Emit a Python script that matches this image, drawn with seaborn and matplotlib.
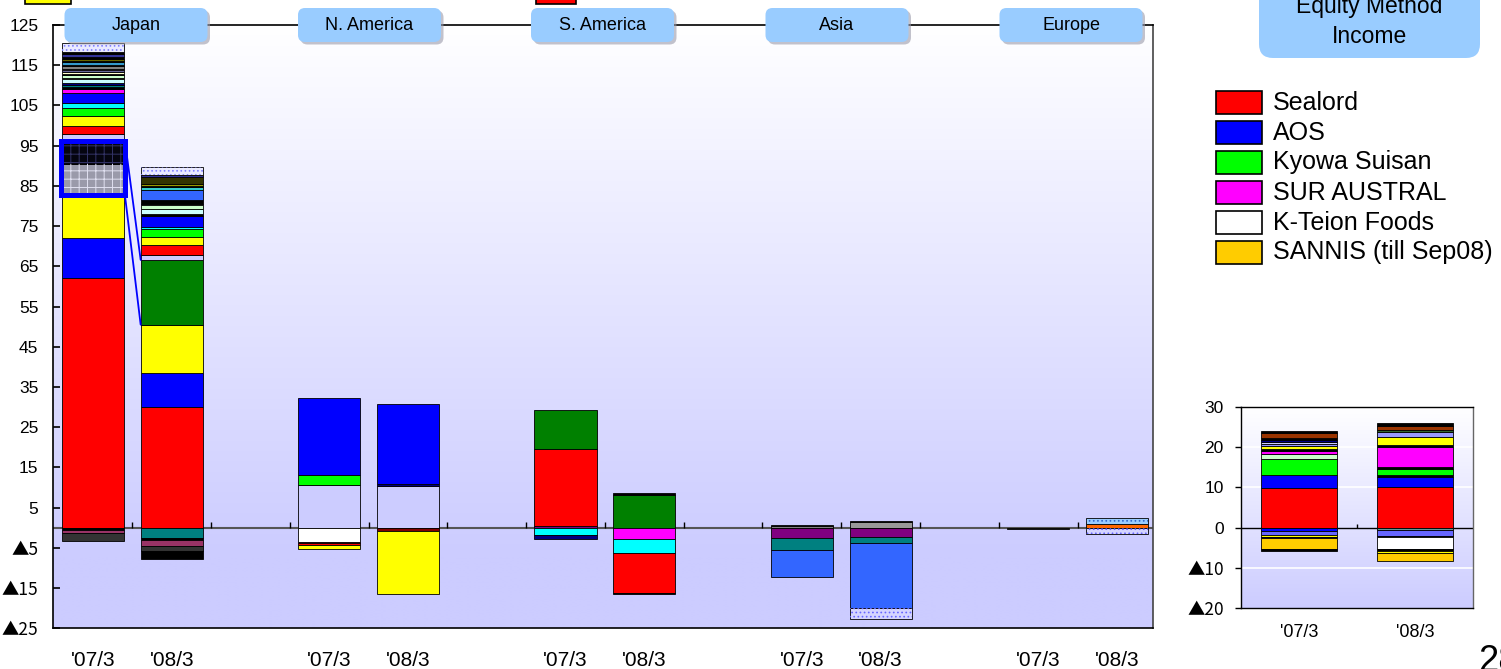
import numpy as np
import matplotlib
matplotlib.use("Agg")
import matplotlib.pyplot as plt
import matplotlib.transforms as mtransforms
from matplotlib.patches import FancyBboxPatch, Rectangle
import seaborn as sns

# ---------------------------------------------------------------- data
REGIONS = ["Japan", "N. America", "S. America", "Asia", "Europe"]
PERIODS = ["'07/3", "'08/3"]

# Stacked contributions per company (upward from 0 / downward from 0), bottom segment first
JP07_UP = [62.0, 10.0, 10.7, 7.7, 5.8, 1.8, 2.0, 2.4, 2.0, 1.2, 2.4, 1.1, 0.5, 0.5, 0.5,
           1.0, 0.3, 0.6, 0.3, 0.5, 0.5, 0.3, 0.7, 0.3, 0.6, 0.3, 0.6, 0.4, 0.8, 0.5, 2.3]
JP07_UP_FILL = ["red", "blue", "yellow", "dots_gray", "dots_black", "lavender", "red", "yellow",
                "green", "cyan", "blue", "magenta", "black", "teal", "navy", "ltcyan", "white",
                "ltgreen", "black", "ltyellow", "slate", "pink", "gray", "black", "steel", "black",
                "olive", "black", "indigo", "black", "dots_lav"]
JP07_DOWN = [-0.6, -0.8, -1.8]
JP07_DOWN_FILL = ["black", "plum", "charcoal"]

JP08_UP = [30.0, 8.5, 12.0, 16.1, 1.3, 2.4, 2.0, 2.0, 0.5, 2.6, 0.5, 1.3, 1.0, 0.2, 1.1,
           2.5, 0.6, 0.3, 0.6, 1.8, 0.4, 2.1]
JP08_UP_FILL = ["red", "blue", "yellow", "dkgreen", "lavender", "red", "yellow", "green", "cyan",
                "blue", "black", "ltcyan", "ltgreen", "white", "black", "royal", "aqua", "black",
                "khaki", "darkolive", "indigo", "dots_lav"]
JP08_DOWN = [-2.6, -0.5, -1.5, -1.3, -1.9]
JP08_DOWN_FILL = ["teal", "black", "plum", "charcoal", "black"]

NA07_UP = [10.7, 2.5, 19.1]
NA07_UP_FILL = ["lavender", "green", "blue"]
NA07_DOWN = [-3.6, -0.25, -0.35, -1.1]
NA07_DOWN_FILL = ["white", "rose", "red", "yellow"]
NA08_UP = [10.5, 0.5, 19.8]
NA08_UP_FILL = ["lavender", "navy", "blue"]
NA08_DOWN = [-0.7, -15.8]
NA08_DOWN_FILL = ["maroon", "yellow"]

SA07_UP = [0.5, 19.1, 9.8]
SA07_UP_FILL = ["purple", "red", "dkgreen"]
SA07_DOWN = [-1.9, -0.8]
SA07_DOWN_FILL = ["cyan", "navy"]
SA08_UP = [8.2, 0.4]
SA08_UP_FILL = ["dkgreen", "black"]
SA08_DOWN = [-2.7, -3.6, -9.8, -0.4]
SA08_DOWN_FILL = ["magenta", "cyan", "red", "black"]

AS07_UP = [0.5, 0.3]
AS07_UP_FILL = ["gray", "charcoal"]
AS07_DOWN = [-2.6, -3.0, -6.7]
AS07_DOWN_FILL = ["purple", "teal", "royal"]
AS08_UP = [1.4, 0.2]
AS08_UP_FILL = ["silver", "charcoal"]
AS08_DOWN = [-2.4, -1.3, -16.2, -2.8]
AS08_DOWN_FILL = ["purple", "teal", "royal", "dots_peri"]

EU07_UP = []
EU07_UP_FILL = []
EU07_DOWN = [-0.4]
EU07_DOWN_FILL = ["charcoal"]
EU08_UP = [0.9, 1.4]
EU08_UP_FILL = ["orange", "dots_sky"]
EU08_DOWN = [-1.6]
EU08_DOWN_FILL = ["dots_peri"]

# Equity method income (all companies)
EQ07_UP = [9.9, 3.2, 3.9, 1.2, 0.8, 0.4, 0.9, 0.4, 0.5, 0.6, 0.4, 1.4, 0.3]
EQ07_UP_FILL = ["red", "blue", "green", "ltgreen", "magenta", "black", "yellow", "periwinkle",
                "lavender", "navy", "black", "brown", "black"]
EQ07_DOWN = [-0.8, -1.0, -0.4, -0.3, -2.9, -0.5]
EQ07_DOWN_FILL = ["blue", "iris", "yellow", "navy", "gold", "black"]
EQ08_UP = [10.0, 2.6, 0.4, 1.6, 0.4, 5.0, 0.4, 2.2, 1.1, 0.5, 0.9, 0.8]
EQ08_UP_FILL = ["red", "blue", "black", "green", "black", "magenta", "black", "yellow",
                "periwinkle", "moss", "brown", "black"]
EQ08_DOWN = [-0.7, -1.3, -0.4, -3.0, -0.3, -0.6, -1.9]
EQ08_DOWN_FILL = ["sage", "iris", "navy", "white", "black", "yellow", "gold"]

LEGEND_NAMES = ["Sealord", "AOS", "Kyowa Suisan", "SUR AUSTRAL", "K-Teion Foods", "SANNIS (till Sep08)"]
LEGEND_FILL = ["red", "blue", "green", "magenta", "white", "gold"]

MAIN_YTICKS = [125, 115, 105, 95, 85, 75, 65, 55, 45, 35, 25, 15, 5, -5, -15, -25]
INSET_YTICKS = [30, 20, 10, 0, -10, -20]

# ---------------------------------------------------------------- styles
FILLS = {
    "red": ("#FF0000", None, None), "blue": ("#0000FF", None, None),
    "yellow": ("#FFFF00", None, None), "green": ("#00FF00", None, None),
    "dkgreen": ("#008000", None, None), "cyan": ("#00FFFF", None, None),
    "magenta": ("#FF00FF", None, None), "black": ("#000000", None, None),
    "teal": ("#008080", None, None), "navy": ("#000080", None, None),
    "ltcyan": ("#CCFFFF", None, None), "ltgreen": ("#CCFFCC", None, None),
    "ltyellow": ("#FFFFCC", None, None), "slate": ("#666699", None, None),
    "pink": ("#CC99CC", None, None), "gray": ("#808080", None, None),
    "steel": ("#3399CC", None, None), "olive": ("#666600", None, None),
    "indigo": ("#333399", None, None), "lavender": ("#CCCCFF", None, None),
    "white": ("#FFFFFF", None, None), "plum": ("#993366", None, None),
    "charcoal": ("#333333", None, None), "darkolive": ("#333300", None, None),
    "khaki": ("#999900", None, None), "aqua": ("#33CCCC", None, None),
    "royal": ("#3366FF", None, None), "purple": ("#800080", None, None),
    "maroon": ("#800000", None, None), "rose": ("#FF99CC", None, None),
    "gold": ("#FFCC00", None, None), "orange": ("#FF6600", None, None),
    "brown": ("#993300", None, None), "periwinkle": ("#9999FF", None, None),
    "iris": ("#6666FF", None, None), "sage": ("#669999", None, None),
    "moss": ("#336633", None, None), "silver": ("#999999", None, None),
    "dots_lav": ("#EAEAFF", "....", "#8080FF"),
    "dots_gray": ("#9A9AAA", "++", "#E0E0F0"),
    "dots_black": ("#050510", "++", "#333366"),
    "dots_sky": ("#99CCFF", "....", "#3366CC"),
    "dots_peri": ("#D4D4FF", "....", "#6666FF"),
}
LAV = np.array([0.80, 0.80, 1.0])
WHITE = np.array([1.0, 1.0, 1.0])
BOX_BLUE = "#99CCFF"
BAR_W = 0.79
HEADER_PX = [136, 369.5, 602.5, 837, 1071]

sns.set_theme(style="white")
plt.rcParams["font.family"] = ["Liberation Sans", "DejaVu Sans"]
plt.rcParams["hatch.linewidth"] = 0.7
CJK = ["Noto Sans CJK JP", "DejaVu Sans"]


def tri_label(v):
    return f"\u25B2{abs(v)}" if v < 0 else str(v)


def style_neg_labels(labels):
    # the triangle sign is set in a Japanese face, as a full-width glyph
    for lab in labels:
        if lab.get_text().startswith("\u25B2"):
            lab.set_fontfamily(CJK)


def draw_segment(ax, xpos, base, value, key, width):
    face, hatch, hcolor = FILLS[key]
    sns.barplot(x=[xpos], y=[value], orient="x", native_scale=True, width=width,
                color=face, saturation=1, errorbar=None, ax=ax,
                bottom=base, edgecolor="black", linewidth=0.6, zorder=3)
    if hatch:
        sns.barplot(x=[xpos], y=[value], orient="x", native_scale=True, width=width,
                    color=face, saturation=1, errorbar=None, ax=ax,
                    bottom=base, facecolor="none", edgecolor=hcolor, linewidth=0,
                    hatch=hatch, zorder=3.1)


def draw_stack(ax, xpos, up, up_fill, down, down_fill, width):
    base = 0.0
    for v, k in zip(up, up_fill):
        draw_segment(ax, xpos, base, v, k, width)
        base += v
    base = 0.0
    for v, k in zip(down, down_fill):
        draw_segment(ax, xpos, base, v, k, width)
        base += v


def gradient(ax, xlim, ylim, knee):
    frac = np.linspace(0, 1, 300)[:, None]
    t = np.clip((frac - knee) / (1 - knee), 0, 1)
    img = LAV[None, None, :] + (WHITE - LAV)[None, None, :] * t[:, :, None]
    img = np.repeat(img, 2, axis=1)
    ax.imshow(img, origin="lower", extent=(xlim[0], xlim[1], ylim[0], ylim[1]),
              aspect="auto", zorder=0, interpolation="bilinear")


W, H = 1501, 669
fig = plt.figure(figsize=(W / 100, H / 100), dpi=100, facecolor="white")

# ---------------------------------------------------------------- main chart
ax = fig.add_axes([53 / W, (H - 628.3) / H, 1100 / W, 603.3 / H])
XLIM, YLIM = (-0.508, 13.458), (-25, 125)
gradient(ax, XLIM, YLIM, 0.12)

stacks = [
    (JP07_UP, JP07_UP_FILL, JP07_DOWN, JP07_DOWN_FILL),
    (JP08_UP, JP08_UP_FILL, JP08_DOWN, JP08_DOWN_FILL),
    (NA07_UP, NA07_UP_FILL, NA07_DOWN, NA07_DOWN_FILL),
    (NA08_UP, NA08_UP_FILL, NA08_DOWN, NA08_DOWN_FILL),
    (SA07_UP, SA07_UP_FILL, SA07_DOWN, SA07_DOWN_FILL),
    (SA08_UP, SA08_UP_FILL, SA08_DOWN, SA08_DOWN_FILL),
    (AS07_UP, AS07_UP_FILL, AS07_DOWN, AS07_DOWN_FILL),
    (AS08_UP, AS08_UP_FILL, AS08_DOWN, AS08_DOWN_FILL),
    (EU07_UP, EU07_UP_FILL, EU07_DOWN, EU07_DOWN_FILL),
    (EU08_UP, EU08_UP_FILL, EU08_DOWN, EU08_DOWN_FILL),
]
bar_x = [3 * (i // 2) + (i % 2) for i in range(len(stacks))]
for xpos, (up, upf, dn, dnf) in zip(bar_x, stacks):
    draw_stack(ax, xpos, up, upf, dn, dnf, BAR_W)

ax.axhline(0, color="#555555", lw=1.5, zorder=2)
ax.vlines(np.arange(0.5, 13.0, 1.0), 0, 1.5, color="black", lw=1.0, zorder=2.5)

# zoom callout from the '07/3 Japan detail to the '08/3 segment
hl_top = sum(JP07_UP[:5])
hl_bot = sum(JP07_UP[:3])
ax.add_patch(Rectangle((-0.405, hl_bot), 0.81, hl_top - hl_bot, fill=False,
                       edgecolor="#0000FF", lw=3.6, zorder=5))
g_bot = sum(JP08_UP[:3])
g_top = sum(JP08_UP[:4])
ax.plot([0.405, 1 - BAR_W / 2], [hl_top, g_top], color="#0000FF", lw=1.3, zorder=5)
ax.plot([0.405, 1 - BAR_W / 2], [hl_bot, g_bot], color="#0000FF", lw=1.3, zorder=5)

ax.set_xlim(*XLIM)
ax.set_ylim(*YLIM)
ax.set_xticks(bar_x)
ax.set_xticklabels(PERIODS * len(REGIONS))
ax.set_yticks(MAIN_YTICKS)
ax.set_yticklabels([tri_label(v) for v in MAIN_YTICKS])
style_neg_labels(ax.get_yticklabels())
ax.tick_params(axis="x", length=0, pad=16.5, labelsize=15, colors="black")
ax.tick_params(axis="y", direction="in", length=5, width=1.2, pad=10.5, labelsize=12.5,
               colors="black", left=True)
ax.set_xlabel("")
ax.set_ylabel("")
for s in ax.spines.values():
    s.set_visible(True)
    s.set_color("black")
    s.set_linewidth(1.2)
ax.spines["right"].set_color("#444444")

# region header tabs
ident = mtransforms.IdentityTransform()
for cx, name in zip(HEADER_PX, REGIONS):
    cy = H - 25
    bw, bh = 143, 34
    shadow = FancyBboxPatch((cx - bw / 2 + 2.5, cy - bh / 2 - 2.5), bw, bh,
                            boxstyle="round,pad=0,rounding_size=7", transform=ident,
                            facecolor="#9A9AAA", edgecolor="none", alpha=0.6, zorder=6)
    box = FancyBboxPatch((cx - bw / 2, cy - bh / 2), bw, bh,
                         boxstyle="round,pad=0,rounding_size=7", transform=ident,
                         facecolor=BOX_BLUE, edgecolor="none", zorder=7)
    fig.add_artist(shadow)
    fig.add_artist(box)
    fig.text(cx / W, cy / H, name, ha="center", va="center", fontsize=13, color="black",
             zorder=8)

# ---------------------------------------------------------------- inset: equity method income
ax2 = fig.add_axes([1241 / W, (H - 608.3) / H, 232 / W, 201.6 / H])
XL2, YL2 = (-0.5, 1.5), (-20, 30)
gradient(ax2, XL2, YL2, 0.0)
for yv in INSET_YTICKS[1:-1]:
    if yv != 0:
        ax2.axhline(yv, color="white", lw=1.2, zorder=1)
draw_stack(ax2, 0, EQ07_UP, EQ07_UP_FILL, EQ07_DOWN, EQ07_DOWN_FILL, 0.66)
draw_stack(ax2, 1, EQ08_UP, EQ08_UP_FILL, EQ08_DOWN, EQ08_DOWN_FILL, 0.66)
ax2.axhline(0, color="black", lw=1.0, zorder=2)
ax2.vlines([0.5], 0, 1.0, color="black", lw=1.0, zorder=2.5)
ax2.set_xlim(*XL2)
ax2.set_ylim(*YL2)
ax2.set_xticks([0, 1])
ax2.set_xticklabels(PERIODS)
ax2.set_yticks(INSET_YTICKS)
ax2.set_yticklabels([tri_label(v) for v in INSET_YTICKS])
style_neg_labels(ax2.get_yticklabels())
ax2.tick_params(axis="x", length=0, pad=11, labelsize=13, colors="black")
ax2.tick_params(axis="y", direction="out", length=4, width=1.0, pad=8.5, labelsize=12.5,
                colors="black", left=True)
ax2.set_xlabel("")
ax2.set_ylabel("")
for s in ax2.spines.values():
    s.set_visible(True)
    s.set_color("black")
    s.set_linewidth(1.0)
ax2.spines["right"].set_color("#666666")

# title tab
title_box = FancyBboxPatch((1259, H - 58), 221, 90, boxstyle="round,pad=0,rounding_size=14",
                           transform=ident, facecolor=BOX_BLUE, edgecolor="none", zorder=7)
fig.add_artist(title_box)
fig.text(1369.5 / W, (H - 13) / H, "Equity Method", ha="center", va="baseline",
         fontsize=16.5, color="black", zorder=8)
fig.text(1369.5 / W, (H - 43) / H, "Income", ha="center", va="baseline",
         fontsize=16.5, color="black", zorder=8)

# company key
for i, (name, key) in enumerate(zip(LEGEND_NAMES, LEGEND_FILL)):
    cy = 102 + i * 30
    fig.add_artist(Rectangle((1216, H - cy - 11.5), 46, 23, transform=ident,
                             facecolor=FILLS[key][0], edgecolor="black", lw=1.2, zorder=7))
    fig.text(1273 / W, (H - cy - 7.5) / H, name, ha="left", va="baseline",
             fontsize=18, color="black", zorder=8)

# partial key swatches along the upper edge
for x0, x1, key in [(25, 71, "yellow"), (536, 576, "red")]:
    fig.add_artist(Rectangle((x0, H - 4), x1 - x0, 20, transform=ident,
                             facecolor=FILLS[key][0], edgecolor="black", lw=1.2, zorder=7))

# page number
fig.text(1478 / W, -2 / H, "28", ha="left", va="baseline", fontsize=26, color="black")

fig.savefig("out.png", dpi=100, facecolor="white")
